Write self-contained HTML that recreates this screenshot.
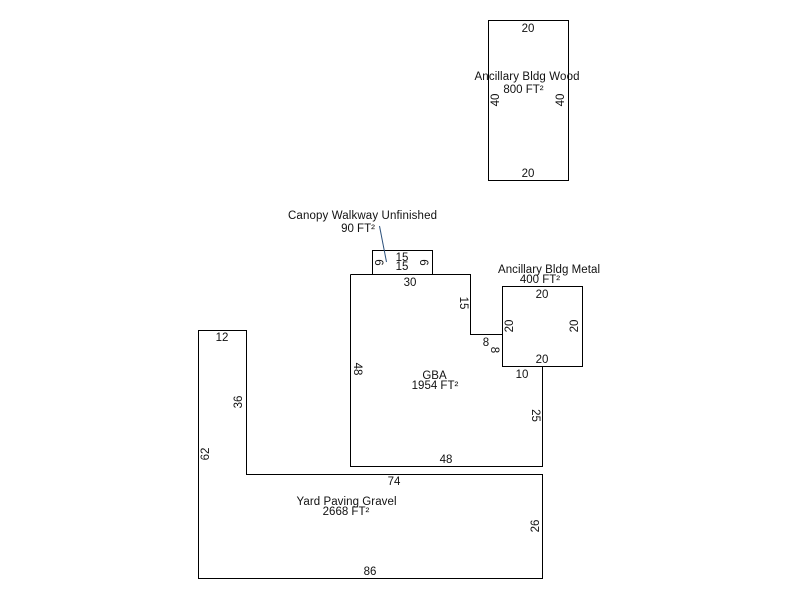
<!DOCTYPE html>
<html><head><meta charset="utf-8"><style>
html,body{margin:0;padding:0;background:#fff}
svg{display:block}
text{font-family:"Liberation Sans",Arial,sans-serif;font-size:11.5px;fill:#111;text-anchor:middle}
</style></head><body>
<svg width="800" height="600" viewBox="0 0 800 600" xmlns="http://www.w3.org/2000/svg">
<g fill="none" stroke="#000" stroke-width="1" shape-rendering="crispEdges">
<rect x="488.5" y="20.5" width="80" height="160"/>
<rect x="372.5" y="250.5" width="60" height="24"/>
<rect x="502.5" y="286.5" width="80" height="80"/>
<path d="M350.5 274.5H470.5V334.5H502.5M542.5 366.5V466.5H350.5V274.5"/>
<path d="M198.5 330.5H246.5V474.5H542.5V578.5H198.5Z"/>
</g>
<line x1="379.5" y1="226" x2="386.5" y2="262" stroke="#2a4f7a" stroke-width="1"/>

<text x="528" y="32">20</text>
<text x="528" y="177">20</text>
<text x="527" y="80" textLength="105" lengthAdjust="spacing">Ancillary Bldg Wood</text>
<text x="523.5" y="93">800 FT²</text>
<text transform="translate(499 100) rotate(-90)">40</text>
<text transform="translate(564 100) rotate(-90)">40</text>

<text x="362.5" y="219" textLength="149" lengthAdjust="spacing">Canopy Walkway Unfinished</text>
<text x="358" y="232">90 FT²</text>
<text x="402" y="261">15</text>
<text x="402" y="270">15</text>
<text transform="translate(375 262.5) rotate(90)">6</text>
<text transform="translate(420 262.5) rotate(90)">6</text>

<text x="410" y="286">30</text>
<text transform="translate(460 303) rotate(90)">15</text>
<text x="486" y="346">8</text>
<text transform="translate(491 350) rotate(90)">8</text>
<text transform="translate(354 369) rotate(90)">48</text>
<text x="434.5" y="379">GBA</text>
<text x="435" y="389">1954 FT²</text>
<text x="522" y="378">10</text>
<text transform="translate(532 415.5) rotate(90)">25</text>
<text x="446" y="463">48</text>

<text x="549" y="273" textLength="102" lengthAdjust="spacing">Ancillary Bldg Metal</text>
<text x="540" y="283">400 FT²</text>
<text x="542" y="298">20</text>
<text x="542" y="363">20</text>
<text transform="translate(513 326) rotate(-90)">20</text>
<text transform="translate(578 326) rotate(-90)">20</text>

<text x="222" y="341">12</text>
<text transform="translate(242 402) rotate(-90)">36</text>
<text transform="translate(209 454) rotate(-90)">62</text>
<text x="394" y="485">74</text>
<text x="346.5" y="505" textLength="100" lengthAdjust="spacing">Yard Paving Gravel</text>
<text x="346" y="515">2668 FT²</text>
<text transform="translate(539 526) rotate(-90)">26</text>
<text x="370" y="575">86</text>
</svg>
</body></html>
